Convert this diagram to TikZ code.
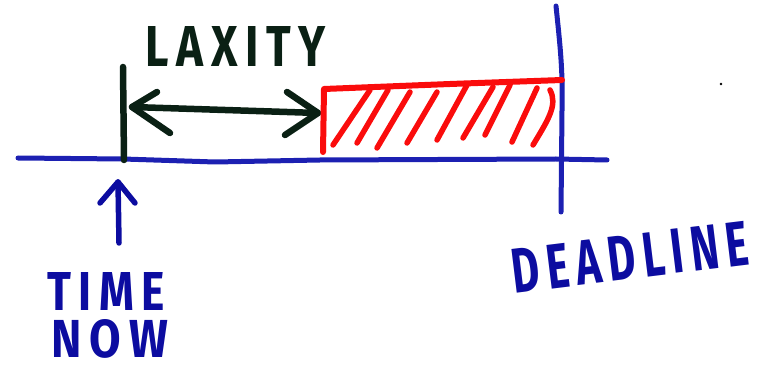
\documentclass[tikz,border=0pt]{standalone}
\usepackage{fontspec}
\setmainfont{Fira Sans}
\usepackage{graphicx}
\usetikzlibrary{calc}
\definecolor{penblue}{RGB}{28,32,178}
\definecolor{inkblue}{RGB}{12,12,160}
\definecolor{penblack}{RGB}{10,32,20}
\definecolor{penred}{RGB}{250,12,12}
\tikzset{
  pen/.style={line cap=round,line join=round},
  axisline/.style={pen,penblue,line width=5pt},
  blackline/.style={pen,penblack,line width=6.5pt},
  redline/.style={pen,penred,line width=6pt},
  hatchline/.style={pen,penred,line width=5.5pt},
  label/.style={inner sep=0pt,outer sep=0pt,font=\bfseries}
}
\begin{document}
\begin{tikzpicture}[x=1pt,y=-1pt]
\useasboundingbox (0,0) rectangle (760,371);
% coordinates
\coordinate (axL) at (18,158);
\coordinate (axR) at (607,160);
\coordinate (nowTop) at (123,67);
\coordinate (nowBot) at (124,160);
\coordinate (arL) at (132,107);
\coordinate (arR) at (318,113);
\coordinate (boxBL) at (323,152);
\coordinate (boxTL) at (324,89);
\coordinate (boxTR) at (562,80);
\coordinate (dlTop) at (556,6);
\coordinate (dlBot) at (561,212);
\coordinate (upTip) at (118,182);
\coordinate (upBot) at (119,243);
% labels
\node[label,text=penblack] (laxity) at (236,47) {\resizebox{180pt}{40pt}{L\,A\,X\,I\,T\,Y}};
\node[label,text=inkblue] (time) at (106,291) {\resizebox{117pt}{38pt}{T\,I\,M\,E}};
\node[label,text=inkblue] (now) at (110,339) {\resizebox{116pt}{38pt}{N\,O\,W}};
\node[label,text=inkblue,rotate=7] (deadline) at (630,257) {\resizebox{238pt}{44pt}{D\,E\,A\,D\,L\,I\,N\,E}};
% axis
\draw[axisline] (axL) -- (123,159) -- (215,162) -- (320,160) -- (556,159) -- (axR);
% deadline line
\draw[axisline] (dlTop) .. controls (560,45) and (563,70) .. (562,110) -- (dlBot);
% now tick
\draw[blackline] (nowTop) -- (nowBot);
% laxity arrow
\draw[blackline] (arL) -- (arR);
\draw[blackline] ($(arL)+(25,-15)$) -- (arL) -- ($(arL)+(38,26)$);
\draw[blackline] ($(arR)+(-31,-21)$) -- (arR) -- ($(arR)+(-33,22)$);
% red box
\draw[redline] (boxBL) -- (boxTL) -- (450,84) -- (boxTR);
\draw[hatchline] (333,145) -- (370,90);
\draw[hatchline] (357,143) -- (388,90);
\draw[hatchline] (377,148) -- (410,92);
\draw[hatchline] (407,143) -- (437,92);
\draw[hatchline] (437,140) -- (467,85);
\draw[hatchline] (463,138) -- (493,87);
\draw[hatchline] (485,135) -- (510,85);
\draw[hatchline] (512,142) -- (537,88);
\draw[hatchline] (533,145) .. controls (548,120) and (558,105) .. (550,90);
% up arrow
\draw[axisline,inkblue,line width=5.5pt] (upBot) -- (upTip);
\draw[axisline,inkblue,line width=5.5pt] ($(upTip)+(-18,21)$) -- (upTip) -- ($(upTip)+(17,21)$);
% stray dot
\fill[black] (721,84) circle (1.3pt);
\end{tikzpicture}
\end{document}
